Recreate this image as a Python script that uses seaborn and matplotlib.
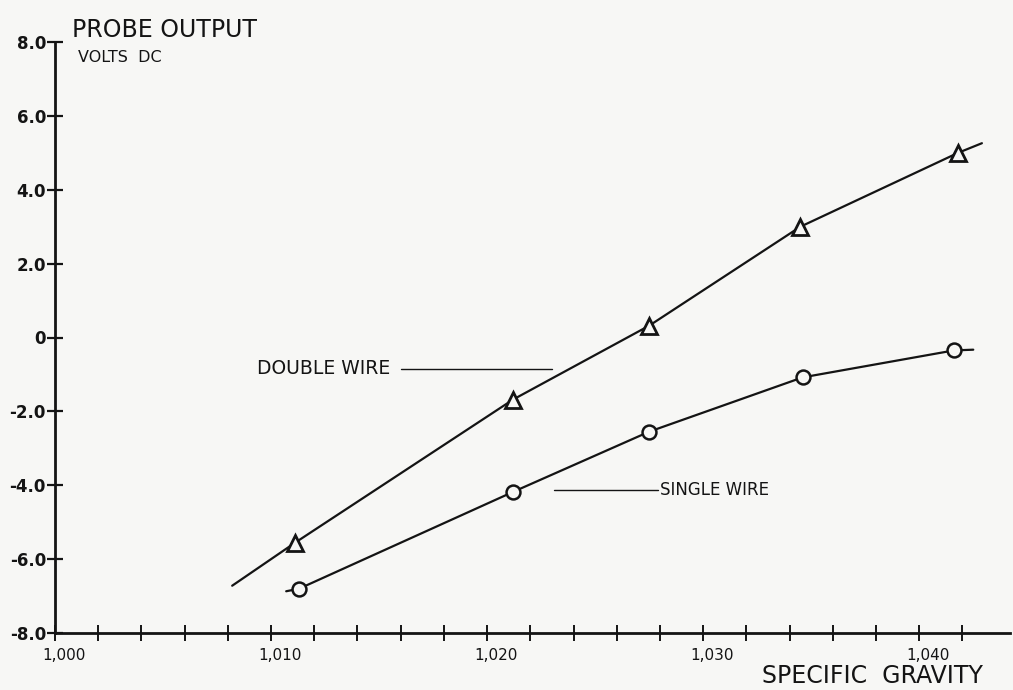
import matplotlib
matplotlib.use("Agg")
import matplotlib.pyplot as plt
import matplotlib.transforms as mtransforms
import seaborn as sns

# ---- data ----
sg_double = [1.0111, 1.0212, 1.0275, 1.0345, 1.0418]
volts_double = [-5.56, -1.68, 0.32, 3.00, 5.00]
sg_single = [1.0113, 1.0212, 1.0275, 1.0346, 1.0416]
volts_single = [-6.80, -4.18, -2.55, -1.08, -0.35]

# hand-drawn curves through the points
curve_double_sg = [1.0082, 1.0111, 1.0212, 1.0275, 1.0345, 1.0418, 1.0429]
curve_double_v = [-6.72, -5.56, -1.68, 0.32, 3.00, 5.00, 5.26]
curve_single_sg = [1.0107, 1.0113, 1.0212, 1.0275, 1.0346, 1.0416, 1.0425]
curve_single_v = [-6.87, -6.80, -4.18, -2.55, -1.08, -0.35, -0.33]

x_major = [1.000, 1.010, 1.020, 1.030, 1.040]
x_major_labels = ["1,000", "1,010", "1,020", "1,030", "1,040"]
y_ticks = [-8, -6, -4, -2, 0, 2, 4, 6, 8]
y_labels = ["-8.0", "-6.0", "-4.0", "-2.0", "0", "2.0", "4.0", "6.0", "8.0"]

BG = "#f7f7f5"
INK = "#141414"

sns.set_style("ticks")
plt.rcParams["font.family"] = ["DejaVu Sans"]

fig = plt.figure(figsize=(10.13, 6.90), dpi=100, facecolor=BG)
ax = fig.add_axes([55 / 1013, 57 / 690, 955 / 1013, 591 / 690])
ax.set_facecolor(BG)

# curves
sns.lineplot(x=curve_double_sg, y=curve_double_v, sort=False, estimator=None,
             color=INK, lw=1.6, ax=ax, zorder=2)
sns.lineplot(x=curve_single_sg, y=curve_single_v, sort=False, estimator=None,
             color=INK, lw=1.6, ax=ax, zorder=2)
# markers
sns.lineplot(x=sg_double, y=volts_double, sort=False, estimator=None,
             linestyle="none", marker="^", markersize=11, markerfacecolor=BG,
             markeredgecolor=INK, markeredgewidth=2.0, ax=ax, zorder=3)
sns.lineplot(x=sg_single, y=volts_single, sort=False, estimator=None,
             linestyle="none", marker="o", markersize=10, markerfacecolor=BG,
             markeredgecolor=INK, markeredgewidth=1.8, ax=ax, zorder=3)

ax.set_xlim(1.000, 1.0442)
ax.set_ylim(-8, 8)

sns.despine(ax=ax)
for side in ("left", "bottom"):
    ax.spines[side].set_linewidth(2.0)
    ax.spines[side].set_color(INK)

ax.set_xticks(x_major)
ax.set_xticklabels(x_major_labels)
ax.set_xticks([1.000 + 0.002 * i for i in range(22)], minor=True)
ax.set_yticks(y_ticks)
ax.set_yticklabels(y_labels)

ax.tick_params(axis="x", which="both", direction="inout", length=11, width=1.4,
               color=INK, labelsize=11, pad=5, labelcolor=INK)
ax.tick_params(axis="y", which="major", direction="inout", length=11, width=1.6,
               color=INK, labelsize=12, pad=1, labelcolor=INK)
for lab in ax.get_yticklabels():
    lab.set_fontweight("bold")
offset = mtransforms.ScaledTranslation(0.09, 0, fig.dpi_scale_trans)
for lab in ax.get_xticklabels():
    lab.set_transform(lab.get_transform() + offset)
ax.set_xlabel("")
ax.set_ylabel("")

# axis titles
fig.text(72 / 1013, 1 - 30 / 690, "PROBE OUTPUT", fontsize=17, color=INK,
         ha="left", va="center")
fig.text(78 / 1013, 1 - 58 / 690, "VOLTS  DC", fontsize=11.5, color=INK,
         ha="left", va="center")
fig.text(762 / 1013, 1 - 676 / 690, "SPECIFIC  GRAVITY", fontsize=17, color=INK,
         ha="left", va="center")

# curve labels with leader lines
ax.text(1.00935, -0.85, "DOUBLE WIRE", fontsize=13.5, color=INK,
        ha="left", va="center")
ax.plot([1.0160, 1.0230], [-0.85, -0.85], color=INK, lw=1.0)
ax.text(1.0280, -4.13, "SINGLE WIRE", fontsize=12, color=INK,
        ha="left", va="center")
ax.plot([1.0231, 1.0279], [-4.13, -4.13], color=INK, lw=1.0)

fig.savefig("out.png", dpi=100, facecolor=BG)
